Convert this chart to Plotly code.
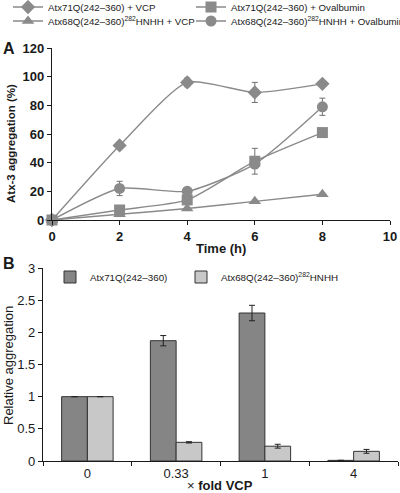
import plotly.graph_objects as go

# ---- Panel A data ----
time_h = [0, 2, 4, 6, 8]
vcp_71 = [0, 52, 96, 89, 95]
vcp_71_err = [0, 1, 3, 7, 1]
ova_71 = [0, 7, 14, 41, 61]
ova_71_err = [0, 1, 1, 9, 1]
vcp_68 = [0, 4, 8, 13, 18]
vcp_68_err = [0, 0, 0, 0, 0]
ova_68 = [0, 22, 20, 39, 79]
ova_68_err = [0, 5, 2, 3, 6]

names_a = [
    "Atx71Q(242–360) + VCP",
    "Atx71Q(242–360) + Ovalbumin",
    "Atx68Q(242–360)<sup>282</sup>HNHH + VCP",
    "Atx68Q(242–360)<sup>282</sup>HNHH + Ovalbumin",
]
symbols_a = ["diamond", "square", "triangle-up", "circle"]

# ---- Panel B data ----
fold_vcp = ["0", "0.33", "1", "4"]
rel_71 = [1.0, 1.87, 2.30, 0.01]
rel_71_err = [0.0, 0.08, 0.12, 0.0]
rel_68 = [1.0, 0.29, 0.23, 0.15]
rel_68_err = [0.0, 0.01, 0.03, 0.03]
names_b = ["Atx71Q(242–360)", "Atx68Q(242–360)<sup>282</sup>HNHH"]

W, H = 400, 493
FONT = "Liberation Sans, Arial, sans-serif"
GRAY = "#8a8a8a"
INK = "#1a1a1a"


def px_x(p):
    return p / W


def px_y(p):
    return 1 - p / H


fig = go.Figure()

# each legend entry gets its own legend box so it can be placed like the original
legend_ids_a = ["legend", "legend2", "legend3", "legend4"]
legend_pos_a = [(8, 7), (191, 7), (8, 21), (191, 21)]
series_a = [(vcp_71, vcp_71_err), (ova_71, ova_71_err), (vcp_68, vcp_68_err), (ova_68, ova_68_err)]
for (vals, errs), nm, sym, lg in zip(series_a, names_a, symbols_a, legend_ids_a):
    fig.add_trace(go.Scatter(
        x=time_h, y=vals, name=nm, mode="lines+markers",
        line=dict(color=GRAY, width=1.4, shape="spline", smoothing=0.6),
        marker=dict(symbol=sym, size=11, color=GRAY),
        error_y=dict(type="data", array=errs, color="#707070", thickness=1, width=3, visible=True),
        cliponaxis=False, xaxis="x", yaxis="y", legend=lg,
    ))

legend_ids_b = ["legend5", "legend6"]
legend_pos_b = [(50, 277), (181, 277)]
bar_colors = ["#858585", "#c8c8c8"]
for vals, errs, nm, col, lg in zip([rel_71, rel_68], [rel_71_err, rel_68_err], names_b, bar_colors, legend_ids_b):
    fig.add_trace(go.Bar(
        x=fold_vcp, y=vals, name=nm,
        marker=dict(color=col, line=dict(color="#333333", width=1)),
        error_y=dict(type="data", array=errs, color="#222222", thickness=1, width=3),
        xaxis="x2", yaxis="y2", legend=lg,
    ))


def axis_style(bold):
    return dict(showgrid=False, zeroline=False, showline=True, linecolor=INK, linewidth=1.3,
                ticks="outside", ticklen=4, tickcolor=INK,
                tickfont=dict(family=FONT, size=13, color=INK, weight="bold" if bold else "normal"))


layout_legends = {}
for lg, (lx, ly) in zip(legend_ids_a, legend_pos_a):
    layout_legends[lg] = dict(orientation="h", x=px_x(lx), y=px_y(ly), xanchor="left", yanchor="middle",
                              itemwidth=30, font=dict(family=FONT, size=9.7, color=INK),
                              bgcolor="rgba(0,0,0,0)")
for lg, (lx, ly) in zip(legend_ids_b, legend_pos_b):
    layout_legends[lg] = dict(orientation="h", x=px_x(lx), y=px_y(ly), xanchor="left", yanchor="middle",
                              itemwidth=30, font=dict(family=FONT, size=9.8, color=INK),
                              bgcolor="rgba(0,0,0,0)")

fig.update_layout(
    width=W, height=H,
    margin=dict(l=0, r=0, t=0, b=0, autoexpand=False),
    paper_bgcolor="white", plot_bgcolor="white",
    font=dict(family=FONT, color=INK),
    barmode="group", bargap=0.42, bargroupgap=0.0,
    xaxis=dict(domain=[px_x(52), px_x(390)], range=[0, 10], dtick=2, anchor="y", **axis_style(True)),
    yaxis=dict(domain=[px_y(220), px_y(48)], range=[0, 120], dtick=20, anchor="x", **axis_style(True)),
    xaxis2=dict(domain=[px_x(43), px_x(398)], anchor="y2", tickson="boundaries", **axis_style(False)),
    yaxis2=dict(domain=[px_y(461), px_y(268)], range=[0, 3], dtick=0.5, anchor="x2", **axis_style(False)),
    showlegend=True,
    **layout_legends,
)

annos = [
    dict(text="<b>A</b>", x=px_x(1), y=px_y(49), xanchor="left", yanchor="middle", font=dict(size=16)),
    dict(text="<b>B</b>", x=px_x(1), y=px_y(263), xanchor="left", yanchor="middle", font=dict(size=16)),
    dict(text="<b>Atx-3 aggregation (%)</b>", x=px_x(11), y=px_y(144), textangle=-90,
         xanchor="center", yanchor="middle", font=dict(size=11.5)),
    dict(text="<b>Time (h)</b>", x=px_x(221), y=px_y(248), xanchor="center", yanchor="middle", font=dict(size=13)),
    dict(text="Relative aggregation", x=px_x(8), y=px_y(366), textangle=-90,
         xanchor="center", yanchor="middle", font=dict(size=13)),
    dict(text="× <b>fold VCP</b>", x=px_x(220), y=px_y(485), xanchor="center", yanchor="middle", font=dict(size=13)),
]
for a in annos:
    a.update(xref="paper", yref="paper", showarrow=False)
    a["font"] = dict(family=FONT, color=INK, **a["font"])
fig.update_layout(annotations=annos)

fig.write_html("out.html", config={"displayModeBar": False},
               post_script="document.body.style.margin='0';document.body.style.overflow='hidden';")
